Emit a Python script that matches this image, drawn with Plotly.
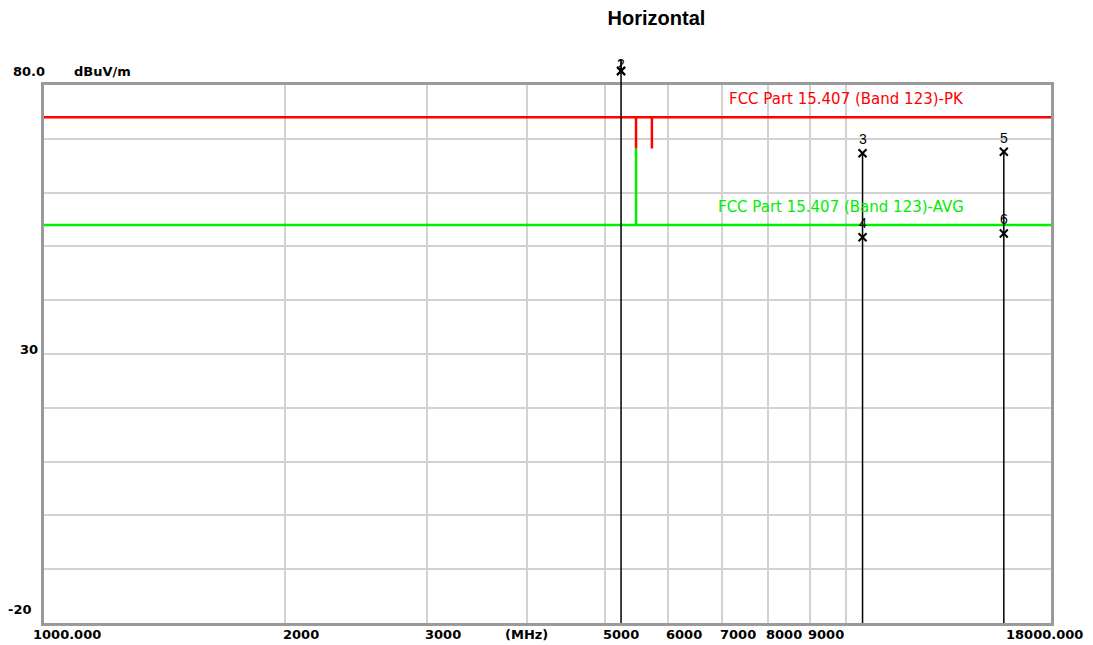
import plotly.graph_objects as go
import math

# ---------------- data ----------------
title_text = "Horizontal"
y_unit = "dBuV/m"
x_unit = "(MHz)"

x_min_mhz = 1000
x_max_mhz = 18000
y_min = -20
y_max = 80

x_grid_mhz = [2000, 3000, 4000, 5000, 6000, 7000, 8000, 9000, 10000]
x_tick_labels = ["2000", "3000", "5000", "6000", "7000", "8000", "9000"]
x_tick_label_vals = [2000, 3000, 5000, 6000, 7000, 8000, 9000]
y_tick_labels = ["80.0", "30", "-20"]
y_tick_label_vals = [80, 30, -20]

pk_limit_name = "FCC Part 15.407 (Band 123)-PK"
pk_limit_freq = [1000, 5470, 5470, 5470, 5725, 5725, 5725, 18000]
pk_limit_level = [74, 74, 68.2, 74, 74, 68.2, 74, 74]

avg_limit_name = "FCC Part 15.407 (Band 123)-AVG"
avg_limit_freq = [1000, 5470, 5470, 5470, 18000]
avg_limit_level = [54, 54, 68.2, 54, 54]

marker_labels = ["1", "2", "3", "4", "5", "6"]
marker_freq = [5240, 5240, 10480, 10480, 15720, 15720]
marker_level = [82.6, 82.6, 67.3, 51.7, 67.6, 52.4]

# ---------------- style ----------------
RED = "#ff0000"
GREEN = "#00ee00"
GRID = "#d2d2d2"
BORDER = "#9a9a9a"
TICK_FONT = dict(family="DejaVu Sans", size=13, color="black")
B = "<b>{}</b>"

W, H = 1085, 637          # page has an 8 px body margin
LX0, LX1 = math.log10(x_min_mhz), math.log10(x_max_mhz)
fig = go.Figure()


def py(v):
    return (v - y_min) / (y_max - y_min)


def px(f):
    return (math.log10(f) - LX0) / (LX1 - LX0)


# limit lines
fig.add_trace(go.Scatter(x=avg_limit_freq, y=avg_limit_level, mode="lines",
                         line=dict(color=GREEN, width=2.5), hoverinfo="skip",
                         showlegend=False))
fig.add_trace(go.Scatter(x=pk_limit_freq, y=pk_limit_level, mode="lines",
                         line=dict(color=RED, width=2.5), hoverinfo="skip",
                         showlegend=False))

# marker vertical lines
tops = {}
for f, v in zip(marker_freq, marker_level):
    tops[f] = max(tops.get(f, -1e9), v)
for f, v in tops.items():
    top = v + 2.0 if v > y_max else v
    fig.add_shape(type="line", xref="paper", yref="paper", layer="above",
                  x0=px(f), x1=px(f), y0=0, y1=py(top),
                  line=dict(color="black", width=1.5))

# marker X symbols (pixel-sized shapes, not clipped) and numbers
for lab, f, v in zip(marker_labels, marker_freq, marker_level):
    for a, b in ((-4, 4), (4, -4)):
        fig.add_shape(type="line", xref="paper", yref="paper", layer="above",
                      xsizemode="pixel", ysizemode="pixel",
                      xanchor=px(f), yanchor=py(v),
                      x0=-4, x1=4, y0=a, y1=b,
                      line=dict(color="black", width=2))
    fig.add_annotation(x=px(f), xref="paper", y=py(v), yref="paper",
                       text=lab, showarrow=False, xanchor="center", yanchor="middle",
                       yshift=7 if v > y_max else 14,
                       font=dict(family="Liberation Sans", size=14, color="black"))

# limit labels
fig.add_annotation(x=math.log10(10000), y=74, xref="x", yref="y", text=pk_limit_name,
                   showarrow=False, yshift=18,
                   font=dict(family="DejaVu Sans", size=15, color=RED))
fig.add_annotation(x=math.log10(9860), y=54, xref="x", yref="y", text=avg_limit_name,
                   showarrow=False, yshift=18,
                   font=dict(family="DejaVu Sans", size=15, color=GREEN))

# y tick labels
y_shift_px = {80: 14, 30: 5, -20: 14}
y_xshift_px = {80: 3, 30: -4, -20: -10}
for lab, val in zip(y_tick_labels, y_tick_label_vals):
    fig.add_annotation(x=0, xref="paper", y=val, yref="y", text=B.format(lab),
                       showarrow=False, xanchor="right", yanchor="middle",
                       xshift=y_xshift_px[val], yshift=y_shift_px[val], font=TICK_FONT)
fig.add_annotation(x=0, xref="paper", y=y_max, yref="y", text=B.format(y_unit),
                   showarrow=False, xanchor="left", yanchor="middle",
                   xshift=28, yshift=14, font=TICK_FONT)

# x tick labels
for lab, val in zip(x_tick_labels, x_tick_label_vals):
    fig.add_annotation(x=math.log10(val), xref="x", y=0, yref="paper",
                       text=B.format(lab), showarrow=False,
                       xanchor="left", yanchor="middle", xshift=-4, yshift=-11,
                       font=TICK_FONT)
fig.add_annotation(x=math.log10(x_min_mhz), xref="x", y=0, yref="paper",
                   text=B.format("1000.000"), showarrow=False,
                   xanchor="center", yanchor="middle", xshift=23, yshift=-11,
                   font=TICK_FONT)
fig.add_annotation(x=math.log10(x_max_mhz), xref="x", y=0, yref="paper",
                   text=B.format("18000.000"), showarrow=False,
                   xanchor="center", yanchor="middle", xshift=-7, yshift=-11,
                   font=TICK_FONT)
fig.add_annotation(x=math.log10(4000), xref="x", y=0, yref="paper",
                   text=B.format(x_unit), showarrow=False,
                   xanchor="center", yanchor="middle", xshift=0, yshift=-11,
                   font=TICK_FONT)

fig.update_layout(
    width=W, height=H,
    margin=dict(l=36, r=42, t=77, b=22),
    paper_bgcolor="white", plot_bgcolor="white",
    title=dict(text="<b>" + title_text + "</b>", x=648.5 / W, xanchor="center",
               y=1 - 10 / H, yanchor="middle",
               font=dict(family="Liberation Sans", size=20, color="black")),
    xaxis=dict(type="log", range=[LX0, LX1],
               tickvals=x_grid_mhz, showticklabels=False, ticks="",
               showgrid=True, gridcolor=GRID, gridwidth=1.5,
               showline=True, linecolor=BORDER, linewidth=2.5, mirror=True,
               zeroline=False, fixedrange=True),
    yaxis=dict(range=[y_min, y_max], dtick=10, tick0=0, showticklabels=False, ticks="",
               showgrid=True, gridcolor=GRID, gridwidth=1.5,
               showline=True, linecolor=BORDER, linewidth=2.5, mirror=True,
               zeroline=False, fixedrange=True),
    showlegend=False,
)

fig.write_html("out.html")
